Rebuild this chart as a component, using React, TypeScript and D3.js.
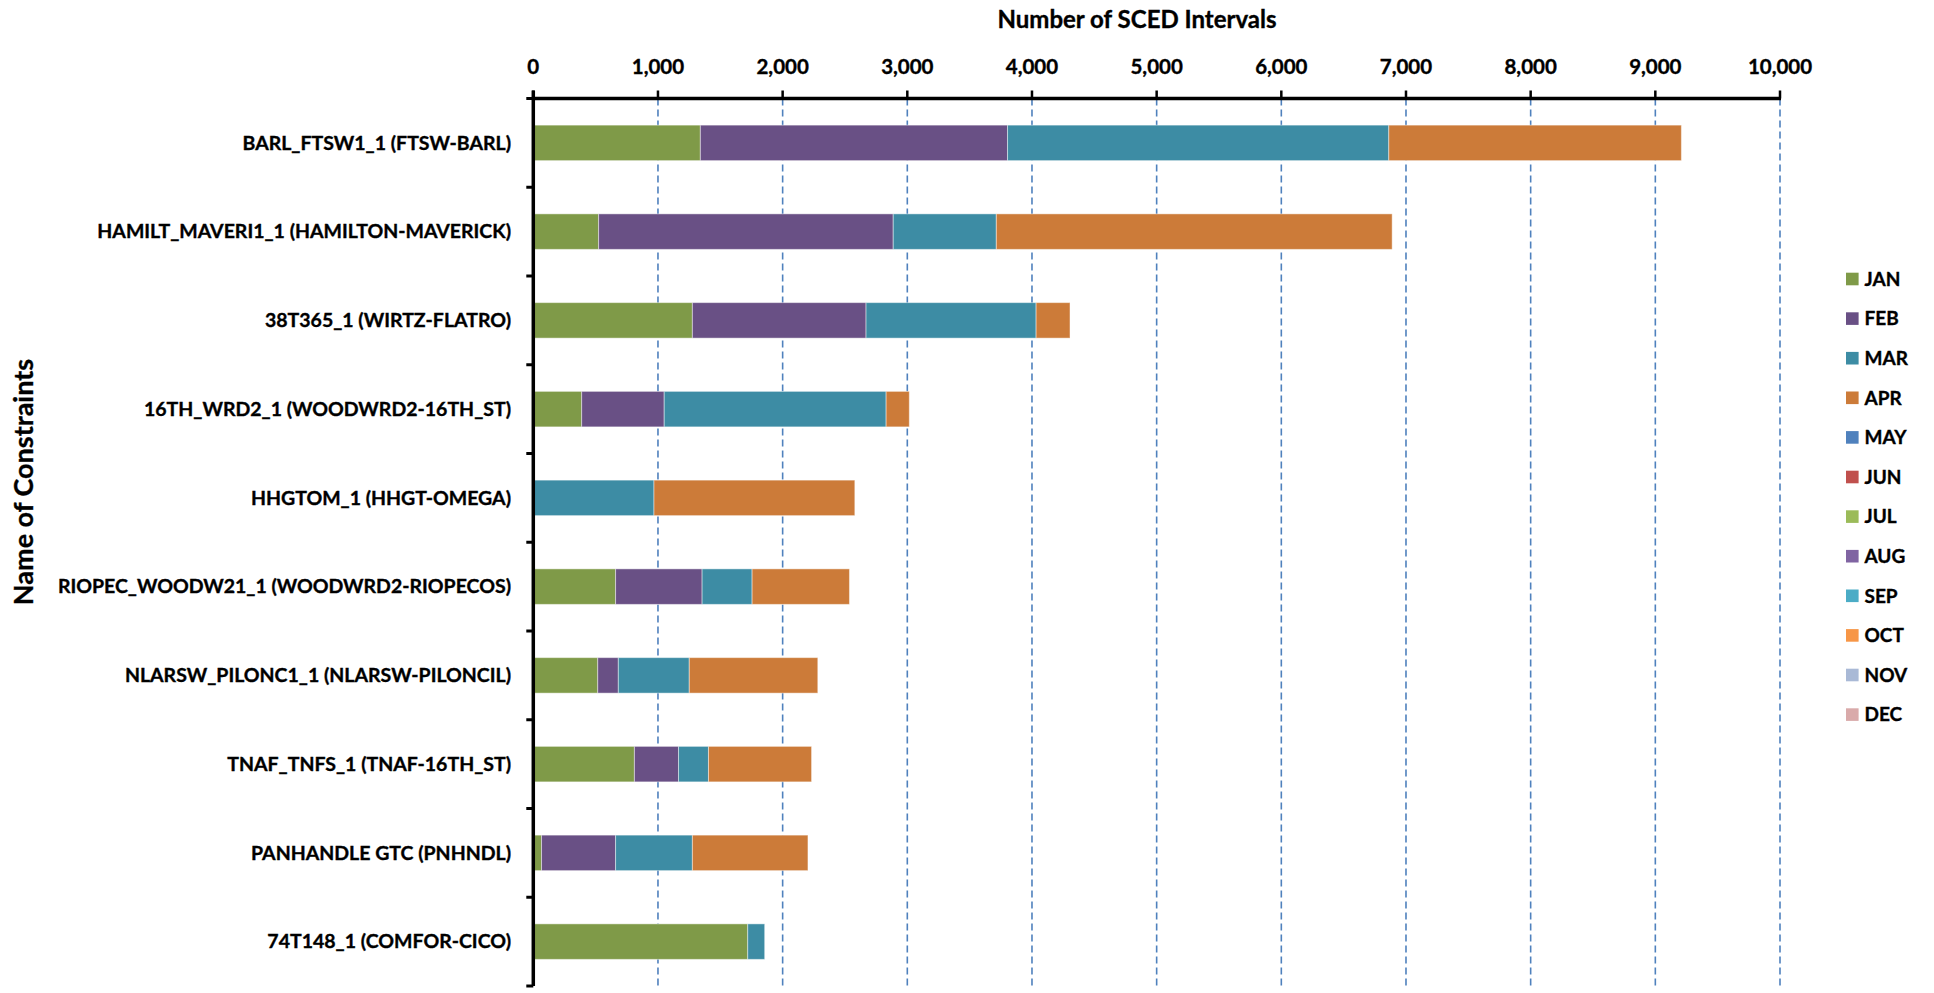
import React from "react";
import * as d3 from "d3";

const categories = [
  "BARL_FTSW1_1 (FTSW-BARL)",
  "HAMILT_MAVERI1_1 (HAMILTON-MAVERICK)",
  "38T365_1 (WIRTZ-FLATRO)",
  "16TH_WRD2_1 (WOODWRD2-16TH_ST)",
  "HHGTOM_1 (HHGT-OMEGA)",
  "RIOPEC_WOODW21_1 (WOODWRD2-RIOPECOS)",
  "NLARSW_PILONC1_1 (NLARSW-PILONCIL)",
  "TNAF_TNFS_1 (TNAF-16TH_ST)",
  "PANHANDLE GTC (PNHNDL)",
  "74T148_1 (COMFOR-CICO)",
];

const months = ["JAN", "FEB", "MAR", "APR", "MAY", "JUN", "JUL", "AUG", "SEP", "OCT", "NOV", "DEC"];
const monthColors = ["#7f9a48", "#695085", "#3d8ca4", "#cc7b39", "#4f81bd", "#c0504d", "#9bbb59", "#8064a2", "#4bacc6", "#f79646", "#a9b9d6", "#d9aaaa"];

const jan = [1340, 524, 1276, 388, 0, 660, 517, 811, 66, 1720];
const feb = [2464, 2363, 1393, 662, 0, 694, 165, 354, 594, 0];
const mar = [3058, 827, 1364, 1780, 968, 401, 569, 240, 616, 136];
const apr = [2347, 3175, 272, 186, 1611, 781, 1031, 827, 927, 0];
const zeros = [0, 0, 0, 0, 0, 0, 0, 0, 0, 0];
const series = [jan, feb, mar, apr, zeros, zeros, zeros, zeros, zeros, zeros, zeros, zeros];

const xTicks = [0, 1000, 2000, 3000, 4000, 5000, 6000, 7000, 8000, 9000, 10000];

const W = 1934;
const H = 993;
const FONT = "Lato, 'Open Sans', sans-serif";

export default function App() {
  const left = 533.3;
  const right = 1780;
  const top = 98.5;
  const bottom = 986;

  const x = d3.scaleLinear().domain([0, 10000]).range([left, right]);
  const y = d3.scaleBand<string>().domain(categories).range([top, bottom]).paddingInner(0.6).paddingOuter(0.3);
  const step = y.step();
  const fmt = d3.format(",");

  const stackData = categories.map((c, i) => {
    const row: any = { cat: c };
    months.forEach((m, k) => (row[m] = series[k][i]));
    return row;
  });
  const stacked = d3.stack().keys(months)(stackData);

  const txt = { fontWeight: 700, fill: "#000", stroke: "#000", strokeWidth: 0.35 } as const;

  return (
    <svg width={W} height={H} style={{ position: "absolute", left: 0, top: 0, background: "#fff" }} fontFamily={FONT}>
      <rect x={0} y={0} width={W} height={H} fill="#fff" />
      {/* gridlines */}
      {xTicks.slice(1).map((t) => (
        <line key={t} x1={x(t)} x2={x(t)} y1={top} y2={bottom} stroke="#4f81bd" strokeWidth={1.6} strokeDasharray="7,4" />
      ))}
      {/* bars */}
      {stacked.map((layer, k) => (
        <g key={months[k]} fill={monthColors[k]}>
          {layer.map((d, i) => {
            const w = x(d[1]) - x(d[0]);
            if (w <= 0) return null;
            return (
              <rect
                key={i}
                x={x(d[0])}
                y={y(categories[i])!}
                width={w}
                height={y.bandwidth()}
                stroke="#ffffff"
                strokeOpacity={0.45}
                strokeWidth={1}
              />
            );
          })}
        </g>
      ))}
      {/* x axis */}
      <line x1={left - 1.5} x2={right + 1} y1={top} y2={top} stroke="#000" strokeWidth={3.5} />
      {xTicks.map((t) => (
        <g key={t}>
          <line x1={x(t)} x2={x(t)} y1={top} y2={top - 8} stroke="#000" strokeWidth={2.5} />
          <text x={x(t)} y={74} textAnchor="middle" fontSize={20.5} {...txt}>
            {fmt(t)}
          </text>
        </g>
      ))}
      {/* y axis */}
      <line x1={left} x2={left} y1={top - 8} y2={bottom} stroke="#000" strokeWidth={3.5} />
      {d3.range(categories.length + 1).map((i) => (
        <line key={i} x1={left - 7} x2={left} y1={top + i * step} y2={top + i * step} stroke="#000" strokeWidth={3} />
      ))}
      {categories.map((c) => (
        <text key={c} x={511} y={y(c)! + y.bandwidth() / 2} dy="0.35em" textAnchor="end" fontSize={19.5} {...txt}>
          {c}
        </text>
      ))}
      {/* titles */}
      <text x={1137} y={28} textAnchor="middle" fontSize={24} {...txt}>
        Number of SCED Intervals
      </text>
      <text transform={`translate(33,482) rotate(-90)`} textAnchor="middle" fontSize={27} {...txt}>
        Name of Constraints
      </text>
      {/* legend */}
      {months.map((m, k) => (
        <g key={m} transform={`translate(1846,${279 + k * 39.6})`}>
          <rect x={0} y={-6.3} width={12.6} height={12.6} fill={monthColors[k]} />
          <text x={18.5} y={0} dy="0.36em" fontSize={19} {...txt}>
            {m}
          </text>
        </g>
      ))}
    </svg>
  );
}
